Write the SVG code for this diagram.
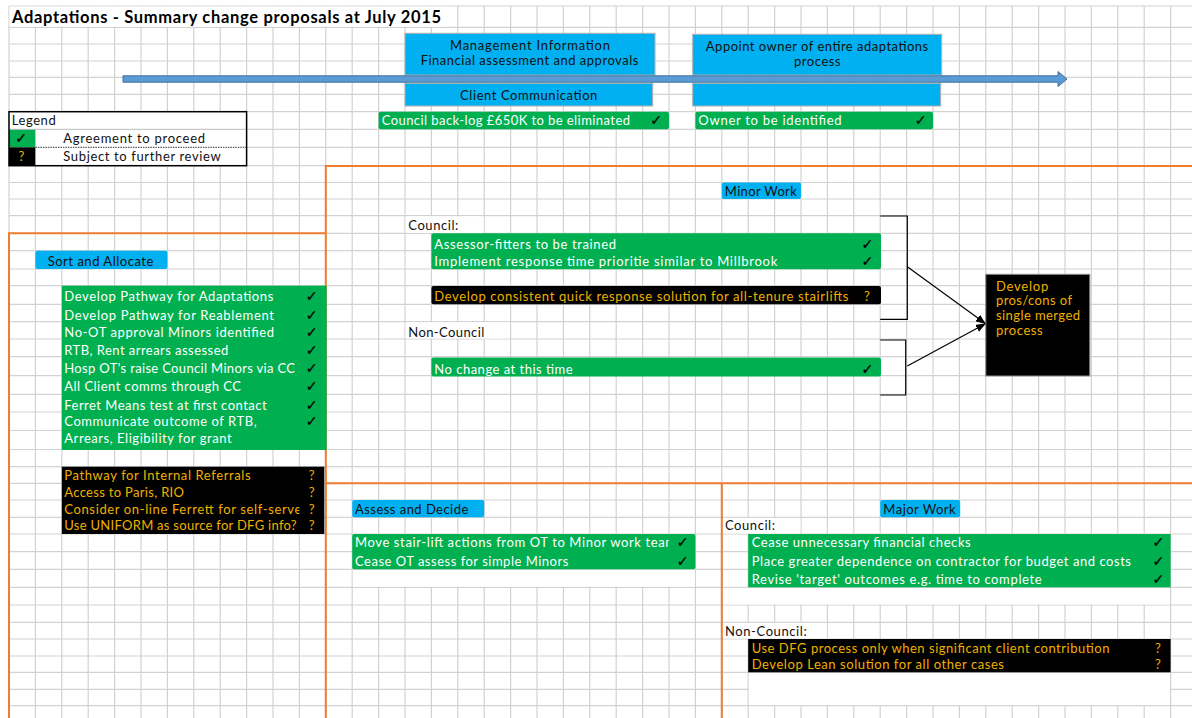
<svg xmlns="http://www.w3.org/2000/svg" width="1192" height="718" viewBox="0 0 1192 718">
<defs>
<style>
.grid{stroke:#d2d2d2;stroke-width:1.2;fill:none}
.wm{fill:#ffffff}
.or{stroke:#ed7d31;stroke-width:2;fill:none}
.blue{fill:#00b0f0;stroke:#b0b0b0;stroke-width:1}
.lab{fill:#00b0f0}
.grn{fill:#00b050}
.blk{fill:#000000}
.t{font-family:Lato,'Liberation Sans',sans-serif;font-size:13px}
.tw{fill:#ffffff}
.tg{fill:#f0b000}
.tk{fill:#111111}
.ck{font-family:'DejaVu Sans',sans-serif;font-size:14px;fill:#000000;stroke:#000000;stroke-width:0.3;text-anchor:middle}
.qm{font-family:Lato,'Liberation Sans',sans-serif;font-size:13px;fill:#f0b000;text-anchor:middle}
.mid{text-anchor:middle}
.conn{stroke:#000;stroke-width:1.2;fill:none}
</style>
<marker id="ah" markerWidth="10" markerHeight="8" refX="9" refY="4" orient="auto" markerUnits="userSpaceOnUse">
<path d="M0,0 L10,4 L0,8 Z" fill="#000"/>
</marker>
<clipPath id="clipA"><rect x="60" y="500" width="239.4" height="20"/></clipPath>
<clipPath id="clipB"><rect x="350" y="535" width="319" height="18"/></clipPath>
</defs>
<rect width="1192" height="718" fill="#ffffff"/>
<g id="grid">
<path class="grid" d="M9 6V718M35.4 6V718M61.8 6V718M88.2 6V718M114.6 6V718M141 6V718M167.4 6V718M193.8 6V718M220.2 6V718M246.6 6V718M273 6V718M299.4 6V718M325.8 6V718M352.2 6V718M378.6 6V718M405 6V718M431.4 6V718M457.8 6V718M484.2 6V718M510.6 6V718M537 6V718M563.4 6V718M589.8 6V718M616.2 6V718M642.6 6V718M669 6V718M695.4 6V718M721.8 6V718M748.2 6V718M774.6 6V718M801 6V718M827.4 6V718M853.8 6V718M880.2 6V718M906.6 6V718M933 6V718M959.4 6V718M985.8 6V718M1012.2 6V718M1038.6 6V718M1065 6V718M1091.4 6V718M1117.8 6V718M1144.2 6V718M1170.6 6V718"/>
<path class="grid" d="M9 6H1192M9 27.3H1192M9 44H1192M9 61H1192M9 77.3H1192M9 94.3H1192M9 111.7H1192M9 129.3H1192M9 147.3H1192M9 165.7H1192M9 182.5H1192M9 199H1192M9 215.7H1192M9 233.3H1192M9 250.7H1192M9 269H1192M9 285.7H1192M9 304.3H1192M9 321.7H1192M9 339H1192M9 356.7H1192M9 375.7H1192M9 394.3H1192M9 412H1192M9 430.5H1192M9 449.5H1192M9 466.7H1192M9 483.3H1192M9 500H1192M9 517.3H1192M9 534H1192M9 551.7H1192M9 569.3H1192M9 587.3H1192M9 605H1192M9 622.3H1192M9 639H1192M9 656H1192M9 672.3H1192M9 689.3H1192M9 705.7H1192"/>
<rect class="wm" x="9.6" y="6.6" width="437" height="20.1"/>
<rect class="wm" x="405.6" y="216.3" width="78" height="16.4"/>
<rect class="wm" x="405.6" y="322.3" width="104.4" height="16.1"/>
<rect class="wm" x="722.4" y="517.9" width="78" height="15.5"/>
<rect class="wm" x="722.4" y="622.9" width="104.4" height="15.5"/>
<rect class="wm" x="352.8" y="569.9" width="342" height="16.8"/>
<rect class="wm" x="722.4" y="587.9" width="447.6" height="16.5"/>
<rect class="wm" x="748.8" y="672.9" width="421.2" height="32.2"/>
</g>
<g id="sections">
<path class="or" d="M9 233.3H325.8M9 232.3V718M325.8 166H1192M325.8 165V718M325.8 483.3H1192M721.8 483.3V718"/>
</g>
<g id="title">
<text x="12" y="23" style="font-family:Lato,'Liberation Sans',sans-serif;font-size:16.5px;font-weight:bold" fill="#000" textLength="429">Adaptations - Summary change proposals at July 2015</text>
</g>
<g id="legend">
<rect x="9" y="111.7" width="237.6" height="54" fill="#fff"/>
<rect class="grn" x="9" y="129.3" width="26.4" height="18"/>
<rect class="blk" x="9" y="147.3" width="26.4" height="18.4"/>
<path d="M9 129.3H246.6" stroke="#bbbbbb" stroke-width="1"/>
<path d="M35.4 147.3H246.6" stroke="#333" stroke-width="1" stroke-dasharray="1.5,1"/>
<rect x="9" y="111.7" width="237.6" height="54" fill="none" stroke="#000" stroke-width="1.5"/>
<text class="t tk" x="11.7" y="125" textLength="44">Legend</text>
<text class="ck" x="21" y="143">✓</text>
<text class="t tk" x="63.3" y="143" textLength="141.7">Agreement to proceed</text>
<text class="qm" x="21.5" y="161">?</text>
<text class="t tk" x="63.3" y="161" textLength="157.4">Subject to further review</text>
</g>
<g id="mgmt-info">
<rect class="blue" x="405" y="33.3" width="250" height="41.7"/>
<text class="t tk mid" x="530" y="49.5" textLength="160">Management Information</text>
<text class="t tk mid" x="529.5" y="64.5" textLength="217.7">Financial assessment and approvals</text>
</g>
<g id="client-comm">
<rect class="blue" x="405" y="83.3" width="247.7" height="22.7"/>
<text class="t tk mid" x="528.7" y="99.5" textLength="137.3">Client Communication</text>
</g>
<g id="appoint-owner">
<rect class="blue" x="692.7" y="34.3" width="249" height="40.7"/>
<text class="t tk mid" x="817" y="51" textLength="222.3">Appoint owner of entire adaptations</text>
<text class="t tk mid" x="817.3" y="65.5" textLength="46.7">process</text>
</g>
<g id="appoint-owner-lower">
<rect class="blue" x="692.7" y="83.3" width="248" height="22.7"/>
</g>
<g id="backlog">
<rect class="grn" x="378.6" y="111.7" width="290.4" height="17.6" rx="2"/>
<text class="t tw" x="381.7" y="125" textLength="248.3">Council back-log £650K to be eliminated</text>
<text class="ck" x="656" y="125">✓</text>
</g>
<g id="owner">
<rect class="grn" x="695.4" y="111.7" width="237.6" height="17.6" rx="2"/>
<text class="t tw" x="698.3" y="125" textLength="143.3">Owner to be identified</text>
<text class="ck" x="920.7" y="125">✓</text>
</g>
<g id="sort-allocate">
<rect class="lab" x="35.4" y="250.7" width="132" height="18.3" rx="2"/>
<text class="t tk" x="47.7" y="266" textLength="105.7">Sort and Allocate</text>
</g>
<g id="sort-agreed">
<rect class="grn" x="61.8" y="285.7" width="264.9" height="164.3"/>
<text class="t tw" x="64.3" y="300.5" textLength="209">Develop Pathway for Adaptations</text>
<text class="t tw" x="64.3" y="319.5" textLength="209.7">Develop Pathway for Reablement</text>
<text class="t tw" x="64.3" y="337.2" textLength="209.7">No-OT approval Minors identified</text>
<text class="t tw" x="64.3" y="355.2" textLength="164">RTB, Rent arrears assessed</text>
<text class="t tw" x="64.3" y="373.2" textLength="230.7">Hosp OT's raise Council Minors via CC</text>
<text class="t tw" x="64.3" y="390.8" textLength="176.7">All Client comms through CC</text>
<text class="t tw" x="64.3" y="409.5" textLength="202.3">Ferret Means test at first contact</text>
<text class="t tw" x="64.3" y="426.2" textLength="192.3">Communicate outcome of RTB,</text>
<text class="t tw" x="64.3" y="442.8" textLength="167.3">Arrears, Eligibility for grant</text>
<text class="ck" x="311.7" y="300.5">✓</text>
<text class="ck" x="311.7" y="319.5">✓</text>
<text class="ck" x="311.7" y="337.2">✓</text>
<text class="ck" x="311.7" y="355.2">✓</text>
<text class="ck" x="311.7" y="373.2">✓</text>
<text class="ck" x="311.7" y="390.8">✓</text>
<text class="ck" x="311.7" y="409.5">✓</text>
<text class="ck" x="311.7" y="426.2">✓</text>
</g>
<g id="sort-review">
<rect class="blk" x="61.8" y="466.7" width="262.5" height="67.3"/>
<text class="t tg" x="64.3" y="479.5" textLength="186.3">Pathway for Internal Referrals</text>
<text class="t tg" x="64.3" y="496.8" textLength="119.7">Access to Paris, RIO</text>
<text class="t tg" x="64.3" y="513.8" textLength="237" clip-path="url(#clipA)">Consider on-line Ferrett for self-serve</text>
<text class="t tg" x="64.3" y="529.5" textLength="232.3">Use UNIFORM as source for DFG info?</text>
<text class="qm" x="311.7" y="479.5">?</text>
<text class="qm" x="311.7" y="496.8">?</text>
<text class="qm" x="311.7" y="513.8">?</text>
<text class="qm" x="311.7" y="529.5">?</text>
</g>
<g id="minor-work">
<rect class="lab" x="721.8" y="182.5" width="79.2" height="16.5" rx="2"/>
<text class="t tk" x="724.8" y="195.5" textLength="72">Minor Work</text>
</g>
<g id="minor-council-label">
<text class="t tk" x="408.3" y="229.5" textLength="50">Council:</text>
</g>
<g id="minor-council-agreed">
<rect class="grn" x="431.4" y="233.3" width="449.6" height="36" rx="2"/>
<text class="t tw" x="434.3" y="248.5" textLength="181.7">Assessor-fitters to be trained</text>
<text class="t tw" x="434.3" y="266.2" textLength="343">Implement response time prioritie similar to Millbrook</text>
<text class="ck" x="867.3" y="248.5">✓</text>
<text class="ck" x="867.3" y="266.2">✓</text>
</g>
<g id="minor-council-review">
<rect class="blk" x="431.4" y="286" width="449.6" height="18.3" rx="2"/>
<text class="t tg" x="434.3" y="300.5" textLength="414">Develop consistent quick response solution for all-tenure stairlifts</text>
<text class="qm" x="867" y="300.5">?</text>
</g>
<g id="minor-noncouncil-label">
<text class="t tk" x="408.3" y="337.2" textLength="76">Non-Council</text>
</g>
<g id="minor-noncouncil-agreed">
<rect class="grn" x="431.4" y="357.5" width="449.6" height="19" rx="2"/>
<text class="t tw" x="434.3" y="373.5" textLength="138.3">No change at this time</text>
<text class="ck" x="867.3" y="373.5">✓</text>
</g>
<g id="merged-process">
<rect x="985.8" y="274.3" width="104" height="101.7" fill="#000" stroke="#8c8c8c" stroke-width="1"/>
<text class="t tg" x="996" y="290.5" textLength="52.3">Develop</text>
<text class="t tg" x="996" y="304.5" textLength="76">pros/cons of</text>
<text class="t tg" x="996" y="319.5" textLength="84">single merged</text>
<text class="t tg" x="996" y="334.5" textLength="46.7">process</text>
</g>
<g id="assess-decide">
<rect class="lab" x="352.2" y="500" width="132" height="17.3" rx="2"/>
<text class="t tk" x="355" y="513.5" textLength="113.3">Assess and Decide</text>
</g>
<g id="assess-agreed">
<rect class="grn" x="352.2" y="534" width="343.2" height="35.3" rx="2"/>
<text class="t tw" x="355" y="547.2" textLength="321" clip-path="url(#clipB)">Move stair-lift actions from OT to Minor work team</text>
<text class="t tw" x="355" y="566.2" textLength="213.3">Cease OT assess for simple Minors</text>
<text class="ck" x="682.7" y="547.2">✓</text>
<text class="ck" x="682.7" y="566.2">✓</text>
</g>
<g id="major-work">
<rect class="lab" x="880.2" y="500" width="80" height="17.3" rx="2"/>
<text class="t tk" x="883.3" y="513.5" textLength="72.3">Major Work</text>
</g>
<g id="major-council-label">
<text class="t tk" x="725" y="529.5" textLength="50">Council:</text>
</g>
<g id="major-council-agreed">
<rect class="grn" x="748.2" y="534" width="422.4" height="53.3"/>
<text class="t tw" x="751.7" y="547.2" textLength="219">Cease unnecessary financial checks</text>
<text class="t tw" x="751.7" y="566.2" textLength="379.3">Place greater dependence on contractor for budget and costs</text>
<text class="t tw" x="751.7" y="584.3" textLength="290">Revise 'target' outcomes e.g. time to complete</text>
<text class="ck" x="1158.3" y="547.2">✓</text>
<text class="ck" x="1158.3" y="566.2">✓</text>
<text class="ck" x="1158.3" y="584.3">✓</text>
</g>
<g id="major-noncouncil-label">
<text class="t tk" x="725" y="636.2" textLength="81.7">Non-Council:</text>
</g>
<g id="major-noncouncil-review">
<rect class="blk" x="748.2" y="639" width="422.4" height="33.3"/>
<text class="t tg" x="751.7" y="652.8" textLength="357.7">Use DFG process only when significant client contribution</text>
<text class="t tg" x="751.7" y="668.5" textLength="252.3">Develop Lean solution for all other cases</text>
<text class="qm" x="1158" y="652.8">?</text>
<text class="qm" x="1158" y="668.5">?</text>
</g>
<g id="connectors">
<path d="M123 75.8H1058V71.5L1067 79L1058 86.5V82.2H123Z" fill="#5b9bd5" stroke="#41719c" stroke-width="1"/>
<path class="conn" d="M880.2 216H907.3V319.3H880.2"/>
<path class="conn" d="M880.2 340H905.7V395H880.2"/>
<path class="conn" d="M907.3 266.7L985 323.3" marker-end="url(#ah)"/>
<path class="conn" d="M907.3 366L985 324" marker-end="url(#ah)"/>
</g>
</svg>
